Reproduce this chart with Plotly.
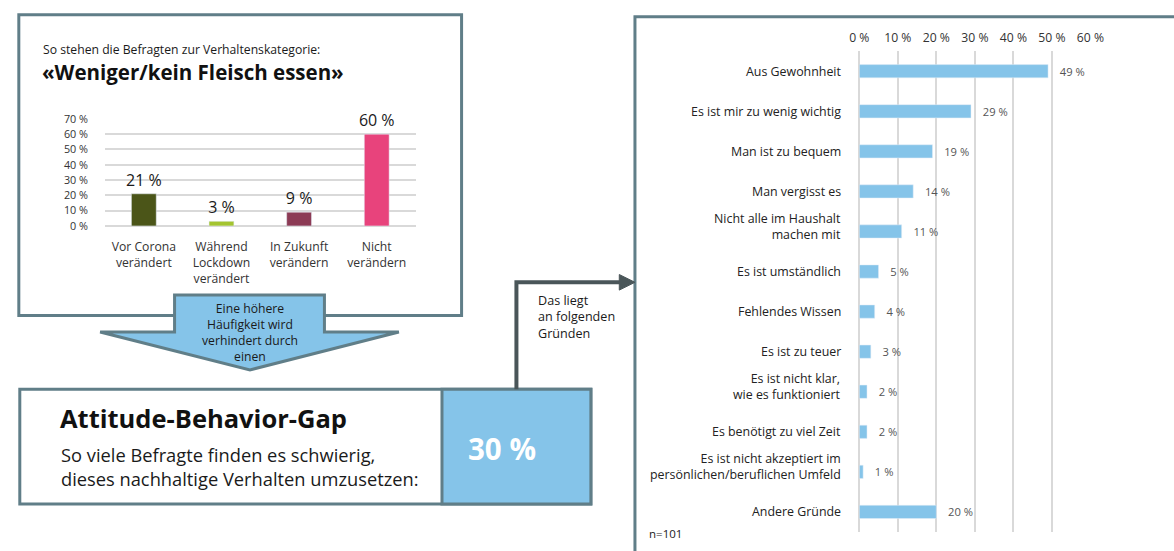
import plotly.graph_objects as go

W, H = 1174, 551
FONT = "Open Sans"

# --- small chart: attitude towards the behaviour category ---
stance_labels = ["Vor Corona<br>verändert", "Während<br>Lockdown<br>verändert",
                 "In Zukunft<br>verändern", "Nicht<br>verändern"]
stance_values = [21, 3, 9, 60]
stance_colors = ["#4b5518", "#a4c430", "#8c3b55", "#e8437c"]

# --- reasons chart ---
reason_labels = ["Aus Gewohnheit", "Es ist mir zu wenig wichtig", "Man ist zu bequem",
                 "Man vergisst es", "Nicht alle im Haushalt<br>machen mit",
                 "Es ist umständlich", "Fehlendes Wissen", "Es ist zu teuer",
                 "Es ist nicht klar,<br>wie es funktioniert", "Es benötigt zu viel Zeit",
                 "Es ist nicht akzeptiert im<br>persönlichen/beruflichen Umfeld",
                 "Andere Gründe"]
reason_values = [49, 29, 19, 14, 11, 5, 4, 3, 2, 2, 1, 20]

gap_value = 30
sample_note = "n=101"

BORDER = "#607e88"
DARK = "#4a5659"
BLUE = "#85c4e9"
GRID = "#d9d9d9"


def px(x):
    return x / W


def py(y):
    return 1 - y / H


def path(points):
    pts = [f"{px(x):.5f},{py(y):.5f}" for x, y in points]
    return "M " + " L ".join(pts) + " Z"


fig = go.Figure()

fig.add_trace(go.Bar(
    x=stance_labels, y=stance_values, marker_color=stance_colors, width=0.32,
    text=[f"{v} %" for v in stance_values], textposition="outside",
    textfont=dict(size=16, color="#1a1a1a", family=FONT), cliponaxis=False,
    constraintext="none", xaxis="x", yaxis="y", hoverinfo="skip",
))

fig.add_trace(go.Bar(
    x=reason_values, y=reason_labels, orientation="h", marker_color=BLUE, width=0.33,
    text=[f"\u00a0\u00a0\u00a0{v} %" for v in reason_values], textposition="outside",
    textfont=dict(size=11.2, color="#555555", family=FONT), cliponaxis=False,
    constraintext="none", xaxis="x2", yaxis="y2", hoverinfo="skip",
))

shapes = [
    # upper-left frame
    dict(type="rect", x0=px(9), x1=px(461), y0=py(7), y1=py(316),
         line=dict(color=BORDER, width=3), fillcolor="white"),
    # right frame (continues past the page edge)
    dict(type="rect", x0=px(638), x1=px(1200), y0=py(9), y1=py(580),
         line=dict(color=BORDER, width=3), fillcolor="white"),
    # bottom frame
    dict(type="rect", x0=px(10), x1=px(593), y0=py(392), y1=py(510),
         line=dict(color=BORDER, width=3), fillcolor="white"),
    dict(type="rect", x0=px(441), x1=px(593), y0=py(392), y1=py(510),
         line=dict(color=BORDER, width=3), fillcolor=BLUE),
    # connector towards the reasons chart
    dict(type="path", path="M {:.5f},{:.5f} L {:.5f},{:.5f} L {:.5f},{:.5f}".format(
        px(517), py(392), px(517), py(282), px(625), py(282)),
         line=dict(color=DARK, width=4)),
    dict(type="path", path=path([(622, 274), (638, 282), (622, 290)]),
         line=dict(color=DARK, width=1), fillcolor=DARK),
    # downward block arrow
    dict(type="path", path=path([(168, 295), (321, 295), (321, 333), (397, 333),
                                 (245, 372), (92, 333), (168, 333)]),
         line=dict(color=BORDER, width=3), fillcolor=BLUE),
]
for s in shapes:
    s.update(xref="paper", yref="paper", layer="below")

annotations = [
    dict(x=px(32), y=py(43), text="So stehen die Befragten zur Verhaltenskategorie:",
         xanchor="left", yanchor="middle", font=dict(size=12.2, color="#1a1a1a")),
    dict(x=px(31), y=py(66), text="<b>«Weniger/kein Fleisch essen»</b>",
         xanchor="left", yanchor="middle", font=dict(size=20.5, color="#111111")),
    dict(x=px(245), y=py(334), text="Eine höhere<br>Häufigkeit wird<br>verhindert durch<br>einen",
         xanchor="center", yanchor="middle", align="center",
         font=dict(size=12.2, color="#1a1a1a")),
    dict(x=px(537), y=py(318), text="Das liegt<br>an folgenden<br>Gründen",
         xanchor="left", yanchor="middle", align="left",
         font=dict(size=12.6, color="#1a1a1a")),
    dict(x=px(49), y=py(421), text="<b>Attitude-Behavior-Gap</b>",
         xanchor="left", yanchor="middle", font=dict(size=25.5, color="#111111")),
    dict(x=px(50), y=py(471),
         text="So viele Befragte finden es schwierig,<br>dieses nachhaltige Verhalten umzusetzen:",
         xanchor="left", yanchor="middle", align="left",
         font=dict(size=18.3, color="#1a1a1a")),
    dict(x=px(502), y=py(453), text=f"<b>{gap_value} %</b>",
         xanchor="center", yanchor="middle", font=dict(size=29.5, color="white")),
    dict(x=px(650), y=py(540), text=sample_note,
         xanchor="left", yanchor="middle", font=dict(size=11.5, color="#1a1a1a")),
]
# reason labels, right-aligned next to the bars; two-line labels sit a bit higher
for lab in reason_labels:
    annotations.append(dict(
        x=px(850), y=lab, yref="y2", text=lab, xanchor="right", yanchor="middle",
        align="right", yshift=5 if "<br>" in lab else 0,
        font=dict(size=12.4, color="#222222")))
for a in annotations:
    a.setdefault("yref", "paper")
    a.update(xref="paper", showarrow=False)

fig.update_layout(
    width=W, height=H, autosize=False,
    margin=dict(l=0, r=0, t=0, b=0, pad=0),
    paper_bgcolor="white", plot_bgcolor="rgba(0,0,0,0)",
    font=dict(family=FONT, color="#1a1a1a"),
    showlegend=False,
    shapes=shapes, annotations=annotations,
    xaxis=dict(domain=[px(97), px(414)], type="category", showgrid=False,
               showline=False, zeroline=False, ticks="",
               tickfont=dict(size=12.2, color="#333333"), anchor="y",
               ticklabelstandoff=12, fixedrange=True),
    yaxis=dict(domain=[py(224), py(114)], range=[0, 70], dtick=10,
               ticksuffix=" %", showgrid=True, gridcolor=GRID, gridwidth=1.5,
               zeroline=True, zerolinecolor=GRID, zerolinewidth=2,
               showline=False, tickfont=dict(size=10.8, color="#333333"),
               anchor="x", ticklabelstandoff=16, fixedrange=True),
    xaxis2=dict(domain=[px(867), px(1103)], range=[0, 60], dtick=10, side="top",
                ticksuffix=" %", showgrid=True, gridcolor=GRID, gridwidth=1.5,
                zeroline=True, zerolinecolor=GRID, zerolinewidth=1.5,
                showline=False, tickfont=dict(size=12.2, color="#333333"),
                anchor="y2", ticklabelstandoff=6, fixedrange=True),
    yaxis2=dict(domain=[py(538.6), py(44.4)], type="category",
                categoryorder="array", categoryarray=reason_labels,
                autorange="reversed", showgrid=False, showline=False, zeroline=False,
                ticks="", showticklabels=False, anchor="x2", fixedrange=True),
)

fig.write_html("out.html", config={"displayModeBar": False})
